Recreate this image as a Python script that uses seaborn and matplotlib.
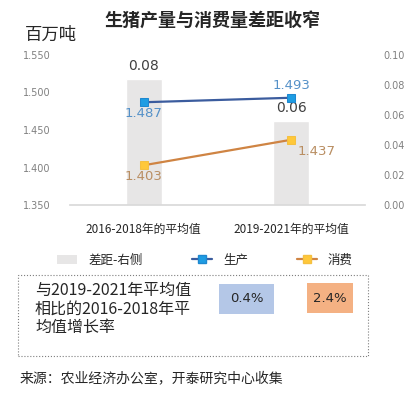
import seaborn as sns
import matplotlib.pyplot as plt
import pandas as pd
from matplotlib.patches import Rectangle, Patch
from matplotlib.lines import Line2D

# data
periods = ["2016-2018年的平均值", "2019-2021年的平均值"]
production = [1.487, 1.493]
consumption = [1.403, 1.437]
gap = [0.084, 0.056]
gap_labels = ["0.08", "0.06"]
growth_labels = ["0.4%", "2.4%"]

W, H = 411, 394


def px(x, y):
    # pixel position (from top-left) -> figure fraction
    return x / W, 1 - y / H


sns.set_theme(style="white")
plt.rcParams["font.family"] = ["Noto Sans CJK SC", "DejaVu Sans"]

df = pd.DataFrame({"period": periods, "production": production,
                   "consumption": consumption, "gap": gap})

fig = plt.figure(figsize=(W / 100, H / 100), dpi=100)
ax = fig.add_axes([70 / W, 1 - 205 / H, 295 / W, 150 / H])
ax2 = ax.twinx()

# gap bars on the right axis
sns.barplot(data=df, x="period", y="gap", ax=ax2, color="#E7E6E6",
            width=0.245, saturation=1)
ax2.set_ylim(0, 0.10)
ax2.set_yticks([0, 0.02, 0.04, 0.06, 0.08, 0.10])
ax2.set_yticklabels([f"{v:.2f}" for v in ax2.get_yticks()], family="DejaVu Sans")
for i, v in enumerate(gap):
    ax2.text(i, v + 0.004, gap_labels[i], ha="center", va="bottom",
             fontsize=10, color="#404040", family="DejaVu Sans")

# lines on the left axis
sns.lineplot(data=df, x="period", y="production", ax=ax, color="#3B5C9E",
             lw=1.6, marker="s", markersize=6, markerfacecolor="#1E9DE3",
             markeredgecolor="#1E88D0", sort=False)
sns.lineplot(data=df, x="period", y="consumption", ax=ax, color="#CF8443",
             lw=1.6, marker="s", markersize=6, markerfacecolor="#FFC83A",
             markeredgecolor="#F5C040", sort=False)
ax.set_ylim(1.350, 1.550)
ax.set_xlim(-0.5, 1.5)
ax.set_yticks([1.35, 1.40, 1.45, 1.50, 1.55])
ax.set_yticklabels([f"{v:.3f}" for v in ax.get_yticks()], family="DejaVu Sans")

blue_txt = "#5591C8"
brown_txt = "#B98E62"
ax.text(0, production[0] - 0.006, f"{production[0]:.3f}", ha="center", va="top",
        fontsize=9.5, color=blue_txt, family="DejaVu Sans")
ax.text(1, production[1] + 0.008, f"{production[1]:.3f}", ha="center", va="bottom",
        fontsize=9.5, color=blue_txt, family="DejaVu Sans")
ax.text(0, consumption[0] - 0.006, f"{consumption[0]:.3f}", ha="center", va="top",
        fontsize=9.5, color=brown_txt, family="DejaVu Sans")
ax.text(1.04, consumption[1] - 0.007, f"{consumption[1]:.3f}", ha="left", va="top",
        fontsize=9.5, color=brown_txt, family="DejaVu Sans")

ax.set_zorder(ax2.get_zorder() + 1)
ax.patch.set_visible(False)

for a in (ax, ax2):
    a.set_xlabel("")
    a.set_ylabel("")
    for s in a.spines.values():
        s.set_visible(False)
ax.spines["bottom"].set_visible(True)
ax.spines["bottom"].set_color("#D9D9D9")
ax.tick_params(axis="y", labelsize=7, labelcolor="#808080", length=0, pad=14)
ax2.tick_params(axis="y", labelsize=7, labelcolor="#808080", length=0, pad=13)
ax.tick_params(axis="x", labelsize=8.5, labelcolor="#262626", length=0, pad=13)
ax2.tick_params(axis="x", length=0)

# title and unit
fig.text(*px(212, 20), "生猪产量与消费量差距收窄", ha="center", va="center",
         fontsize=13, fontweight="bold", color="#262626")
fig.text(*px(25, 35), "百万吨", ha="left", va="center", fontsize=12.5,
         color="#262626")

# legend
handles = [
    Patch(facecolor="#E7E6E6", edgecolor="none"),
    Line2D([], [], color="#3B5C9E", lw=1.6, marker="s", markersize=6,
           markerfacecolor="#1E9DE3", markeredgecolor="#1E88D0"),
    Line2D([], [], color="#CF8443", lw=1.6, marker="s", markersize=6,
           markerfacecolor="#FFC83A", markeredgecolor="#F5C040"),
]
fig.legend(handles, ["差距-右侧", "生产", "消费"], ncol=3, frameon=False,
           loc="center left", bbox_to_anchor=px(46, 260), fontsize=9,
           handlelength=1.6, handletextpad=0.9, columnspacing=3.9,
           labelcolor="#262626")

# growth-rate box
fig.patches.append(Rectangle(px(18, 356), 350 / W, 81 / H, transform=fig.transFigure,
                             fill=False, edgecolor="#7F7F7F", lw=0.8, ls=":"))
fig.text(*px(35, 282), "与2019-2021年平均值\n相比的2016-2018年平\n均值增长率",
         ha="left", va="top", fontsize=11.5, color="#262626", linespacing=1.1)
box_specs = [(219, 284, 55, 30, "#B4C7E7"), (307, 283, 46, 30, "#F4B183")]
for (bx, by, bw, bh, c), lab in zip(box_specs, growth_labels):
    fig.patches.append(Rectangle(px(bx, by + bh), bw / W, bh / H,
                                 transform=fig.transFigure, color=c, lw=0))
    fig.text(*px(bx + bw / 2, by + bh / 2), lab, ha="center", va="center",
             fontsize=9.5, color="#262626", family="DejaVu Sans")

# source
fig.text(*px(20, 378), "来源：农业经济办公室，开泰研究中心收集", ha="left",
         va="center", fontsize=10, color="#262626")

fig.savefig("out.png", dpi=100)
